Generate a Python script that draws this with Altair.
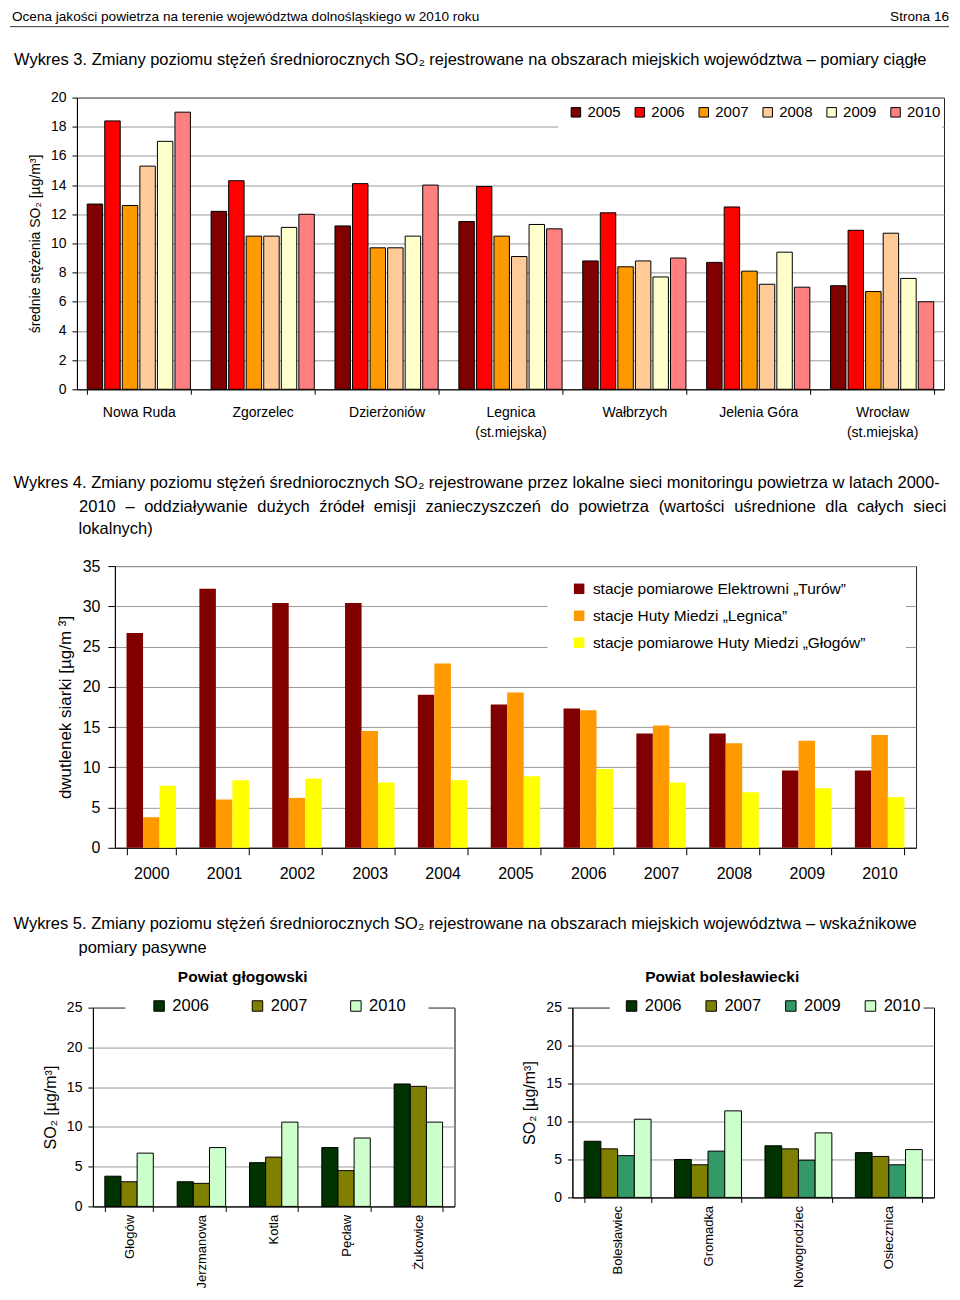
import altair as alt
import pandas as pd

SANS = "'Liberation Sans', Arial, sans-serif"

# ---------------- Wykres 3 ----------------
miasta3 = ["Nowa Ruda", "Zgorzelec", "Dzierżoniów", "Legnica (st.miejska)",
           "Wałbrzych", "Jelenia Góra", "Wrocław (st.miejska)"]
lata3 = ["2005", "2006", "2007", "2008", "2009", "2010"]
w3_2005 = [12.7, 12.2, 11.2, 11.5, 8.8, 8.7, 7.1]
w3_2006 = [18.4, 14.3, 14.1, 13.9, 12.1, 12.5, 10.9]
w3_2007 = [12.6, 10.5, 9.7, 10.5, 8.4, 8.1, 6.7]
w3_2008 = [15.3, 10.5, 9.7, 9.1, 8.8, 7.2, 10.7]
w3_2009 = [17.0, 11.1, 10.5, 11.3, 7.7, 9.4, 7.6]
w3_2010 = [19.0, 12.0, 14.0, 11.0, 9.0, 7.0, 6.0]
kolory3 = ["#800000", "#FF0000", "#FF9900", "#FFCC99", "#FFFFCC", "#FF8080"]

# ---------------- Wykres 4 ----------------
lata4 = ["2000", "2001", "2002", "2003", "2004", "2005", "2006", "2007", "2008", "2009", "2010"]
sieci4 = ["stacje pomiarowe Elektrowni „Turów”", "stacje Huty Miedzi „Legnica”",
          "stacje pomiarowe Huty Miedzi „Głogów”"]
turow4 = [26.7, 32.2, 30.4, 30.4, 19.0, 17.8, 17.3, 14.2, 14.2, 9.6, 9.6]
legnica4 = [3.8, 6.0, 6.2, 14.5, 22.9, 19.3, 17.1, 15.2, 13.0, 13.3, 14.0]
glogow4 = [7.7, 8.4, 8.6, 8.1, 8.4, 8.9, 9.8, 8.1, 6.9, 7.4, 6.3]
kolory4 = ["#800000", "#FF9900", "#FFFF00"]

# ---------------- Wykres 5 ----------------
stan5a = ["Głogów", "Jerzmanowa", "Kotla", "Pęcław", "Żukowice"]
lata5a = ["2006", "2007", "2010"]
g5_2006 = [3.8, 3.1, 5.5, 7.4, 15.4]
g5_2007 = [3.1, 2.9, 6.2, 4.5, 15.1]
g5_2010 = [6.7, 7.4, 10.6, 8.6, 10.6]
kolory5a = ["#003300", "#808000", "#CCFFCC"]

stan5b = ["Bolesławiec", "Gromadka", "Nowogrodziec", "Osiecznica"]
lata5b = ["2006", "2007", "2009", "2010"]
b5_2006 = [7.4, 5.0, 6.8, 5.9]
b5_2007 = [6.4, 4.3, 6.4, 5.4]
b5_2009 = [5.5, 6.1, 4.9, 4.3]
b5_2010 = [10.3, 11.4, 8.5, 6.3]
kolory5b = ["#003300", "#808000", "#339966", "#CCFFCC"]

# caption texts
naglowek = "Ocena jakości powietrza na terenie województwa dolnośląskiego w 2010 roku"
strona = "Strona 16"
podpis3 = "Wykres 3. Zmiany poziomu stężeń średniorocznych SO₂ rejestrowane na obszarach miejskich województwa – pomiary ciągłe"
podpis4_1 = "Wykres 4. Zmiany poziomu stężeń średniorocznych SO₂ rejestrowane przez lokalne sieci monitoringu powietrza  w latach 2000-"
podpis4_2 = "2010 – oddziaływanie dużych źródeł emisji zanieczyszczeń do powietrza (wartości uśrednione dla całych sieci"
podpis4_3 = "lokalnych)"
podpis5_1 = "Wykres 5. Zmiany poziomu stężeń średniorocznych SO₂ rejestrowane na obszarach miejskich województwa – wskaźnikowe"
podpis5_2 = "pomiary pasywne"

CAP = 16.5

# Arial / Liberation Sans advance widths (1/1000 em) for justifying one caption line
_W = {}
for chars, w in [("0123456789–abdeghnopquęąóń", 556), ("cksvxyzżźś", 500), ("ijlł", 222),
                 ("ft .", 278), ("r()-", 333), ("w", 722), ("m", 833)]:
    for ch in chars:
        _W[ch] = w


def text_width(s, size):
    return sum(_W.get(ch, 556) for ch in s) / 1000 * size


def justified_positions(line, x_start, x_end, size):
    words = line.split(" ")
    widths = [text_width(w, size) for w in words]
    gap = (x_end - x_start - sum(widths)) / (len(words) - 1)
    xs, x = [], x_start
    for w in widths:
        xs.append(x)
        x += w + gap
    return list(zip(words, xs))


def long_df(cats, series, lists, cf, sf):
    rows = []
    for s, vals in zip(series, lists):
        for c, v in zip(cats, vals):
            rows.append({cf: c, sf: s, "v": v})
    return pd.DataFrame(rows)


def text_layer(s, x, y, size, align="left", weight="normal"):
    return alt.Chart(pd.DataFrame({"t": [s]})).mark_text(
        align=align, baseline="middle", font=SANS, fontSize=size,
        fontWeight=weight, color="#000"
    ).encode(text="t:N", x=alt.value(x), y=alt.value(y))


def spacer(x1, x2, y1, y2):
    return alt.Chart(pd.DataFrame({"s": [0]})).mark_rule(opacity=0).encode(
        x=alt.value(x1), x2=alt.value(x2), y=alt.value(y1), y2=alt.value(y2))


def white_box(x1, x2, y1, y2):
    return alt.Chart(pd.DataFrame({"s": [0]})).mark_rect(color="white").encode(
        x=alt.value(x1), x2=alt.value(x2), y=alt.value(y1), y2=alt.value(y2))


def shim():
    return alt.Chart(pd.DataFrame({"s": [0]})).mark_rule(opacity=0).encode(
        x=alt.value(0), x2=alt.value(1), y=alt.value(0)).properties(width=1, height=1)


FRAME = alt.ViewBackground(stroke="#222", strokeWidth=1)

# ---------- Row 1: header + Wykres 3 ----------
df3 = long_df(miasta3, lata3, [w3_2005, w3_2006, w3_2007, w3_2008, w3_2009, w3_2010], "miasto", "rok3")
bars3 = alt.Chart(df3).mark_bar(stroke="#000", strokeWidth=1).encode(
    x=alt.X("miasto:N", sort=miasta3,
            scale=alt.Scale(paddingInner=0.167, paddingOuter=0.083),
            axis=alt.Axis(title=None, labelAngle=0, tickBand="extent", tickSize=5,
                          labelPadding=11, labelFontSize=14, labelLineHeight=20,
                          labelExpr="split(replace(datum.label, ' (', '|('), '|')",
                          grid=False)),
    xOffset=alt.XOffset("rok3:N", sort=lata3, scale=alt.Scale(paddingInner=0.12, paddingOuter=0)),
    y=alt.Y("v:Q", scale=alt.Scale(domain=[0, 20], nice=False),
            axis=alt.Axis(values=list(range(0, 21, 2)), title="średnie stężenia SO₂ [µg/m³]",
                          titleFontSize=14, labelFontSize=14, tickSize=5, labelPadding=6,
                          titlePadding=8, grid=True)),
    color=alt.Color("rok3:N", sort=lata3, scale=alt.Scale(domain=lata3, range=kolory3),
                    legend=alt.Legend(title=None, orient="none", legendX=492, legendY=7,
                                      direction="horizontal", symbolType="square", symbolSize=90,
                                      symbolStrokeColor="#000", symbolStrokeWidth=1,
                                      labelFontSize=15, labelOffset=4, columnPadding=11,
                                      padding=0)),
)
chart1 = alt.layer(
    spacer(-67, 873, -88.5, 359.5),
    white_box(482, 866, 3, 31),
    bars3,
    text_layer(naglowek, -65, -81, 13.6),
    text_layer(strona, 873, -81, 13.6, align="right"),
    alt.Chart(pd.DataFrame({"s": [0]})).mark_rule(color="#333", strokeWidth=1).encode(
        x=alt.value(-67), x2=alt.value(873), y=alt.value(-71)),
    text_layer(podpis3, -63, -37.5, CAP),
).properties(width=868, height=292, view=FRAME)
row1 = alt.concat(shim(), chart1, columns=2, spacing=0).resolve_scale(
    color="independent", xOffset="independent")

# ---------- Row 2: Wykres 4 ----------
df4 = long_df(lata4, sieci4, [turow4, legnica4, glogow4], "rok4", "siec")
bars4 = alt.Chart(df4).mark_bar().encode(
    x=alt.X("rok4:N", sort=lata4, scale=alt.Scale(paddingInner=0.32, paddingOuter=0.16),
            axis=alt.Axis(title=None, labelAngle=0, tickBand="extent", tickSize=7,
                          labelPadding=11, labelFontSize=16, grid=False)),
    xOffset=alt.XOffset("siec:N", sort=sieci4, scale=alt.Scale(paddingInner=0, paddingOuter=0)),
    y=alt.Y("v:Q", scale=alt.Scale(domain=[0, 35], nice=False),
            axis=alt.Axis(values=list(range(0, 36, 5)), title="dwutlenek siarki [µg/m ³]",
                          titleFontSize=17, labelFontSize=16, tickSize=7, labelPadding=8,
                          titlePadding=8, grid=True)),
    color=alt.Color("siec:N", sort=sieci4, scale=alt.Scale(domain=sieci4, range=kolory4),
                    legend=alt.Legend(title=None, orient="none", legendX=457, legendY=15,
                                      direction="vertical", symbolType="square", symbolSize=110,
                                      symbolStrokeWidth=0, labelFontSize=15.5, labelOffset=6,
                                      rowPadding=10, labelLimit=500, padding=0)),
)
words4 = [text_layer(w, x, -59.5, CAP)
          for w, x in justified_positions(podpis4_2, -35.8, 832.3, CAP)]
chart4 = alt.layer(
    spacer(-105.4, 834, -108.4, 395),
    white_box(433, 792, 7, 95),
    bars4,
    text_layer(podpis4_1, -101.5, -83.5, CAP),
    *words4,
    text_layer(podpis4_3, -36.4, -37, CAP),
    text_layer(podpis5_1, -101.5, 358.5, CAP),
    text_layer(podpis5_2, -36.4, 382, CAP),
).properties(width=802, height=282, view=FRAME)
row2 = alt.concat(shim(), chart4, columns=2, spacing=0).resolve_scale(
    color="independent", xOffset="independent")


# ---------- Row 3: Wykres 5 ----------
def chart5(df, cats, lata, kolory, field, pin, pout, h, legx, colpad, title, sp, box):
    bars = alt.Chart(df).mark_bar(stroke="#000", strokeWidth=1).encode(
        x=alt.X(f"{field}:N", sort=cats, scale=alt.Scale(paddingInner=pin, paddingOuter=pout),
                axis=alt.Axis(title=None, labelAngle=270, tickBand="extent", tickSize=5,
                              labelPadding=3, labelFontSize=13, grid=False)),
        xOffset=alt.XOffset(f"rok_{field}:N", sort=lata, scale=alt.Scale(paddingInner=0, paddingOuter=0)),
        y=alt.Y("v:Q", scale=alt.Scale(domain=[0, 25], nice=False),
                axis=alt.Axis(values=[0, 5, 10, 15, 20, 25], title="SO₂ [µg/m³]",
                              titleFontSize=16, labelFontSize=14, tickSize=5, labelPadding=6,
                              titlePadding=8, grid=True)),
        color=alt.Color(f"rok_{field}:N", sort=lata, scale=alt.Scale(domain=lata, range=kolory),
                        legend=alt.Legend(title=None, orient="none", legendX=legx, legendY=-10,
                                          direction="horizontal", symbolType="square", symbolSize=110,
                                          symbolStrokeColor="#000", symbolStrokeWidth=1,
                                          labelFontSize=16.5, labelOffset=5, columnPadding=colpad,
                                          padding=0)),
    )
    return alt.layer(
        spacer(*sp),
        white_box(*box),
        bars,
        text_layer(title, 150, -30.5, 15.5, align="center", weight="bold"),
    ).properties(width=362, height=h, view=alt.ViewBackground(stroke="#000", strokeWidth=1))


df5a = long_df(stan5a, lata5a, [g5_2006, g5_2007, g5_2010], "stan_a", "rok_stan_a")
df5b = long_df(stan5b, lata5b, [b5_2006, b5_2007, b5_2009, b5_2010], "stan_b", "rok_stan_b")
c5a = chart5(df5a, stan5a, lata5a, kolory5a, "stan_a", 0.33, 0.165, 199, 58, 39.5,
             "Powiat głogowski", (-82.7, 379.2, -45.3, 283.7), (32.5, 336, -10, 8))
c5b = chart5(df5b, stan5b, lata5b, kolory5b, "stan_b", 0.26, 0.13, 190, 51, 20.7,
             "Powiat bolesławiecki", (-99.5, 379.5, -45.3, 283.7), (37.4, 351.6, -10, 8))

row3 = alt.concat(shim(), c5a, c5b, columns=3, spacing=0).resolve_scale(
    color="independent", xOffset="independent")

chart = alt.concat(row1, row2, row3, columns=1, spacing=0).resolve_scale(
    color="independent", xOffset="independent"
).properties(padding=0).configure_view(stroke=None).configure_axis(
    labelFont=SANS, titleFont=SANS, labelColor="#000", titleColor="#000",
    domainColor="#000", tickColor="#000", gridColor="#9a9a9a", titleFontWeight="normal"
).configure_legend(labelFont=SANS, labelColor="#000")

chart.save("out.html", embed_options={"renderer": "svg", "actions": False})
